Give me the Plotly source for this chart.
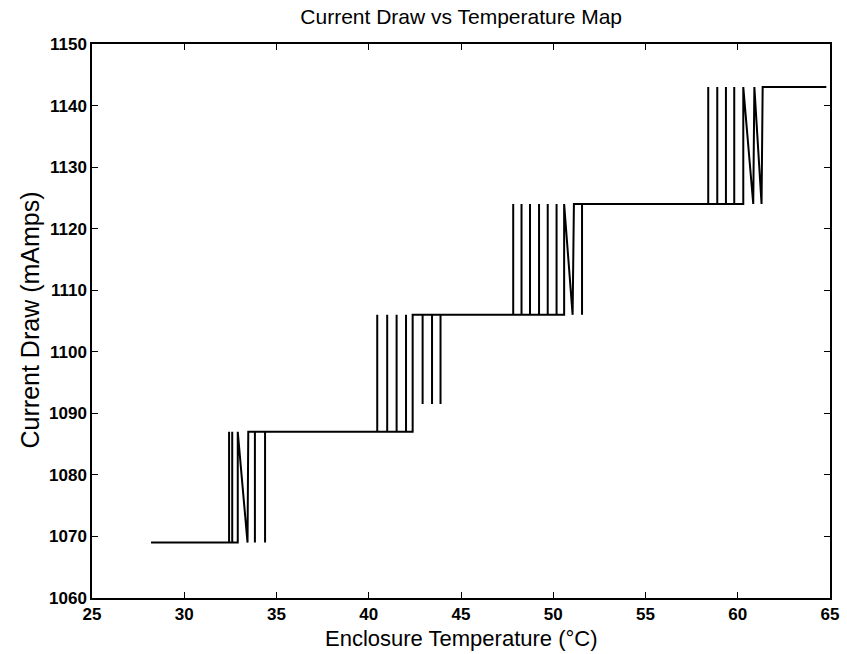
import plotly.graph_objects as go

# Trace of enclosure temperature (°C) vs current draw (mA), in recorded order
temperature = [
    28.2, 32.43, 32.43, 32.43, 32.6, 32.6, 32.6, 32.9, 32.9, 33.43, 33.47,
    33.83, 33.83, 33.83, 34.38, 34.38, 34.38,
    40.46, 40.46, 40.46, 41.0, 41.0, 41.0, 41.51, 41.51, 41.51, 42.02, 42.02, 42.02,
    42.38, 42.38,
    42.92, 42.92, 42.92, 43.43, 43.43, 43.43, 43.89, 43.89, 43.89,
    47.83, 47.83, 47.83, 48.28, 48.28, 48.28, 48.74, 48.74, 48.74,
    49.23, 49.23, 49.23, 49.70, 49.70, 49.70, 50.18, 50.18, 50.18,
    50.59, 50.59, 51.05, 51.12,
    51.56, 51.56, 51.56,
    58.40, 58.40, 58.40, 58.89, 58.89, 58.89, 59.36, 59.36, 59.36, 59.81, 59.81, 59.81,
    60.30, 60.30, 60.84, 60.90, 61.29, 61.35,
    64.8,
]
current = [
    1069, 1069, 1087, 1069, 1069, 1087, 1069, 1069, 1087, 1069, 1087,
    1087, 1069, 1087, 1087, 1069, 1087,
    1087, 1106, 1087, 1087, 1106, 1087, 1087, 1106, 1087, 1087, 1106, 1087,
    1087, 1106,
    1106, 1091.5, 1106, 1106, 1091.5, 1106, 1106, 1091.5, 1106,
    1106, 1124, 1106, 1106, 1124, 1106, 1106, 1124, 1106,
    1106, 1124, 1106, 1106, 1124, 1106, 1106, 1124, 1106,
    1106, 1124, 1106, 1124,
    1124, 1106, 1124,
    1124, 1143, 1124, 1124, 1143, 1124, 1124, 1143, 1124, 1124, 1143, 1124,
    1124, 1143, 1124, 1143, 1124, 1143,
    1143,
]

x_ticks = [25, 30, 35, 40, 45, 50, 55, 60, 65]
y_ticks = [1060, 1070, 1080, 1090, 1100, 1110, 1120, 1130, 1140, 1150]

FONT = "Liberation Sans, Arial, sans-serif"

fig = go.Figure()
fig.add_trace(go.Scatter(
    x=temperature, y=current, mode="lines",
    line=dict(color="black", width=2),
    showlegend=False, hoverinfo="skip",
))

axis_common = dict(
    showgrid=False, zeroline=False, showline=True, linecolor="black", linewidth=1.5,
    mirror="allticks", ticks="inside", ticklen=6, tickcolor="black", tickwidth=1.2,
    automargin=False,
    tickfont=dict(family=FONT, size=17, color="black", weight="bold"),
)

fig.update_layout(
    width=847, height=654,
    margin=dict(l=92, r=17, t=44, b=56),
    paper_bgcolor="white", plot_bgcolor="white",
    title=dict(text="Current Draw vs Temperature Map", x=0.5445, xanchor="center",
               y=0.975, yanchor="middle",
               font=dict(family=FONT, size=21, color="black")),
    xaxis=dict(range=[25, 65], tickvals=x_ticks, ticktext=[str(v) for v in x_ticks],
               **axis_common),
    yaxis=dict(range=[1060, 1150], tickvals=y_ticks, ticktext=[str(v) for v in y_ticks],
               **axis_common),
    annotations=[
        dict(text="Enclosure Temperature (°C)", xref="paper", yref="paper",
             x=0.5, y=-0.0985, xanchor="center", yanchor="bottom", showarrow=False,
             font=dict(family=FONT, size=22, color="black")),
        dict(text="Current Draw (mAmps)", xref="paper", yref="paper",
             x=-0.084, y=0.501, xanchor="center", yanchor="middle", showarrow=False,
             textangle=-90, font=dict(family=FONT, size=25, color="black")),
    ],
)

fig.write_html("out.html")
